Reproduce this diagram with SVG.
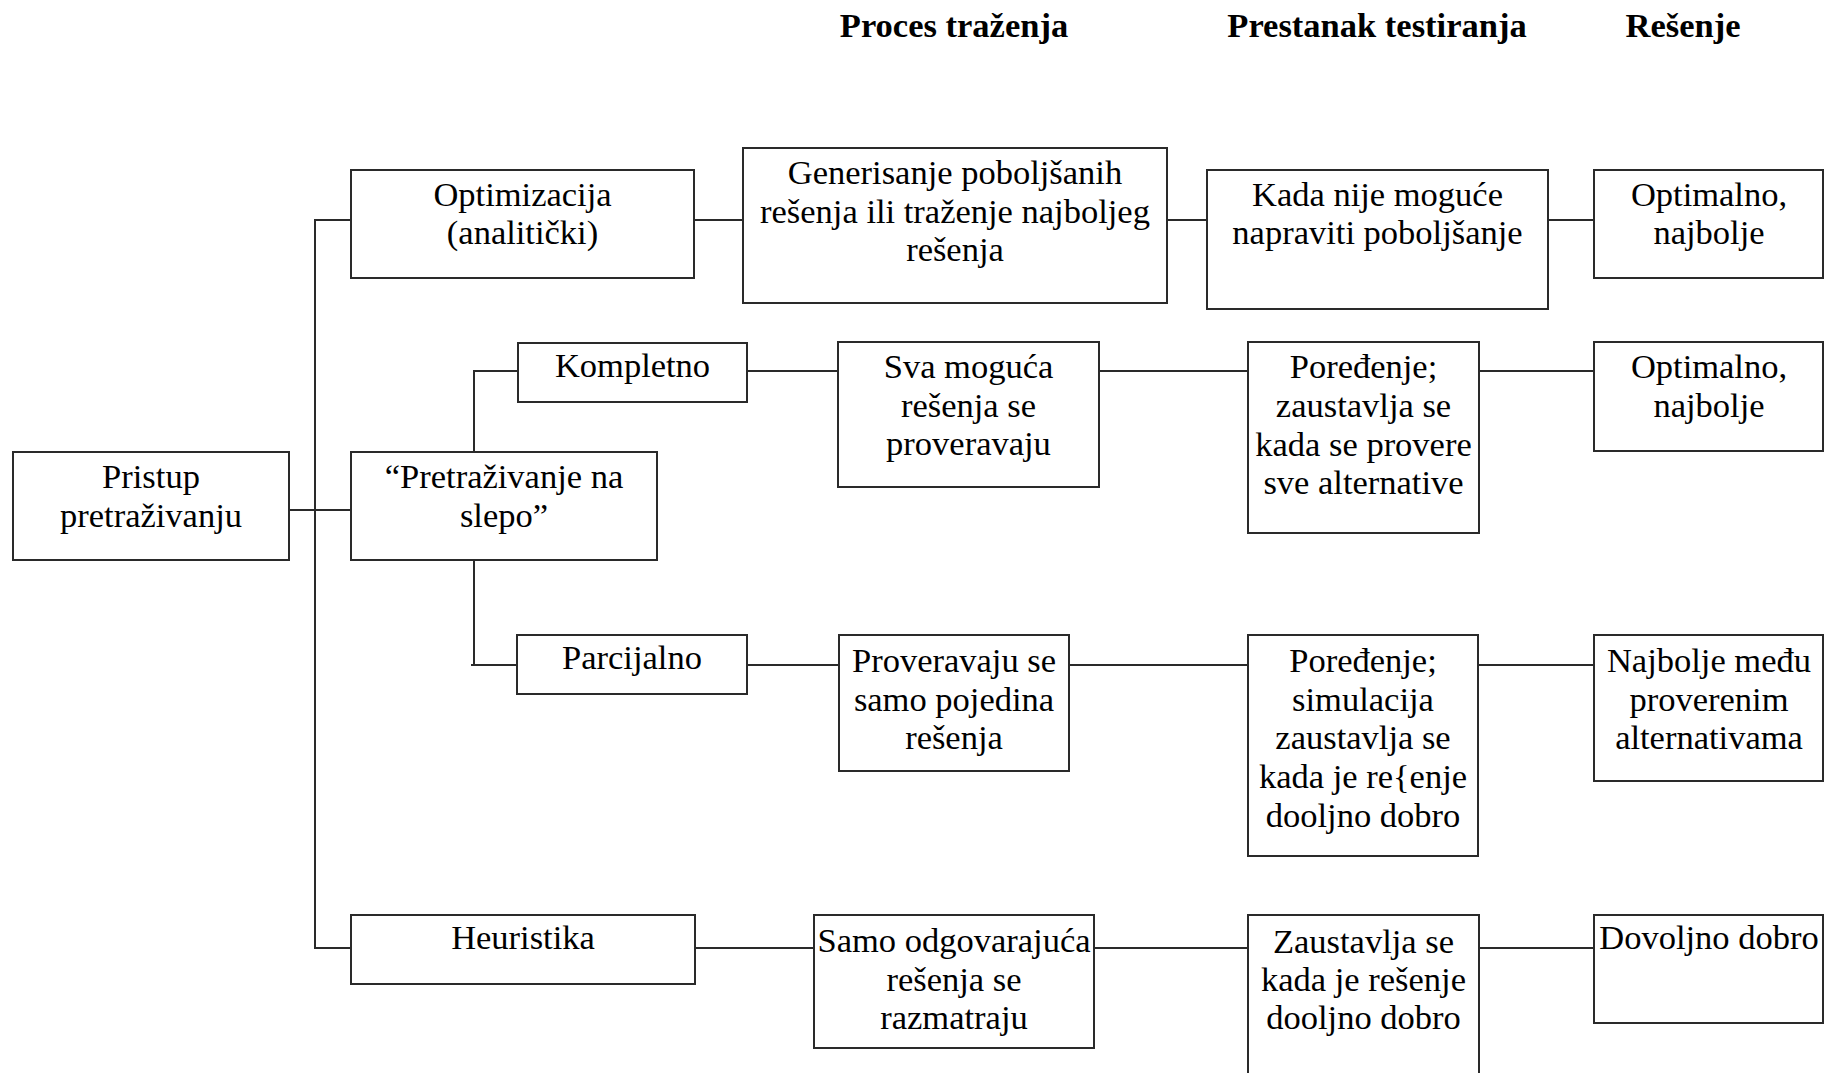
<svg xmlns="http://www.w3.org/2000/svg" width="1825" height="1073" viewBox="0 0 1825 1073">
<style>
.box{fill:#fff;stroke:#2a2a2a;stroke-width:2}
.con{fill:none;stroke:#2a2a2a;stroke-width:2}
text{font-family:"Liberation Serif","Times New Roman",serif;font-size:34.5px;fill:#000;text-anchor:middle}
.hdr{font-weight:bold}
</style>
<rect x="0" y="0" width="1825" height="1073" fill="#fff"/>
<g id="headers">
<text class="hdr" x="954" y="37">Proces traženja</text>
<text class="hdr" x="1377" y="37">Prestanak testiranja</text>
<text class="hdr" x="1683" y="37">Rešenje</text>
</g>
<g id="connectors">
<path class="con" d="M351 220H315V948H351"/>
<path class="con" d="M289 510H351"/>
<path class="con" d="M518 371H474V452"/>
<path class="con" d="M474 560V665H517M471 665H474"/>
<path class="con" d="M694 220H743M1167 220H1207M1548 220H1594"/>
<path class="con" d="M747 371H838M1099 371H1248M1479 371H1594"/>
<path class="con" d="M747 665H839M1069 665H1248M1478 665H1594"/>
<path class="con" d="M695 948H814M1094 948H1248M1479 948H1594"/>
</g>
<g id="pristup"><rect class="box" x="13" y="452" width="276" height="108"/><text x="151" y="488">Pristup</text><text x="151" y="527">pretraživanju</text></g>
<g id="optimizacija"><rect class="box" x="351" y="170" width="343" height="108"/><text x="522.5" y="206">Optimizacija</text><text x="522.5" y="244">(analitički)</text></g>
<g id="slepo"><rect class="box" x="351" y="452" width="306" height="108"/><text x="504" y="488">“Pretraživanje na</text><text x="504" y="527">slepo”</text></g>
<g id="kompletno"><rect class="box" x="518" y="343" width="229" height="59"/><text x="632.5" y="377">Kompletno</text></g>
<g id="parcijalno"><rect class="box" x="517" y="635" width="230" height="59"/><text x="632" y="669">Parcijalno</text></g>
<g id="heuristika"><rect class="box" x="351" y="915" width="344" height="69"/><text x="523" y="949">Heuristika</text></g>
<g id="generisanje"><rect class="box" x="743" y="148" width="424" height="155"/><text x="955" y="184">Generisanje poboljšanih</text><text x="955" y="222.5">rešenja ili traženje najboljeg</text><text x="955" y="261">rešenja</text></g>
<g id="sva"><rect class="box" x="838" y="342" width="261" height="145"/><text x="968.5" y="378">Sva moguća</text><text x="968.5" y="417">rešenja se</text><text x="968.5" y="455">proveravaju</text></g>
<g id="proveravaju"><rect class="box" x="839" y="635" width="230" height="136"/><text x="954" y="672">Proveravaju se</text><text x="954" y="710.5">samo pojedina</text><text x="954" y="749">rešenja</text></g>
<g id="samo"><rect class="box" x="814" y="915" width="280" height="133"/><text x="954" y="952">Samo odgovarajuća</text><text x="954" y="990.5">rešenja se</text><text x="954" y="1029">razmatraju</text></g>
<g id="kada"><rect class="box" x="1207" y="170" width="341" height="139"/><text x="1377.5" y="206">Kada nije moguće</text><text x="1377.5" y="244">napraviti poboljšanje</text></g>
<g id="poredjenje1"><rect class="box" x="1248" y="342" width="231" height="191"/><text x="1363.5" y="378">Poređenje;</text><text x="1363.5" y="417">zaustavlja se</text><text x="1363.5" y="455.5">kada se provere</text><text x="1363.5" y="494">sve alternative</text></g>
<g id="poredjenje2"><rect class="box" x="1248" y="635" width="230" height="221"/><text x="1363" y="672">Poređenje;</text><text x="1363" y="710.5">simulacija</text><text x="1363" y="749">zaustavlja se</text><text x="1363" y="788">kada je re{enje</text><text x="1363" y="826.5">dooljno dobro</text></g>
<g id="zaustavlja"><rect class="box" x="1248" y="915" width="231" height="170"/><text x="1363.5" y="952.5">Zaustavlja se</text><text x="1363.5" y="991">kada je rešenje</text><text x="1363.5" y="1029">dooljno dobro</text></g>
<g id="optimalno1"><rect class="box" x="1594" y="170" width="229" height="108"/><text x="1709" y="206">Optimalno,</text><text x="1709" y="244">najbolje</text></g>
<g id="optimalno2"><rect class="box" x="1594" y="342" width="229" height="109"/><text x="1709" y="378">Optimalno,</text><text x="1709" y="417">najbolje</text></g>
<g id="najbolje"><rect class="box" x="1594" y="635" width="229" height="146"/><text x="1709" y="672">Najbolje među</text><text x="1709" y="710.5">proverenim</text><text x="1709" y="749">alternativama</text></g>
<g id="dovoljno"><rect class="box" x="1594" y="915" width="229" height="108"/><text x="1709" y="949">Dovoljno dobro</text></g>
</svg>
